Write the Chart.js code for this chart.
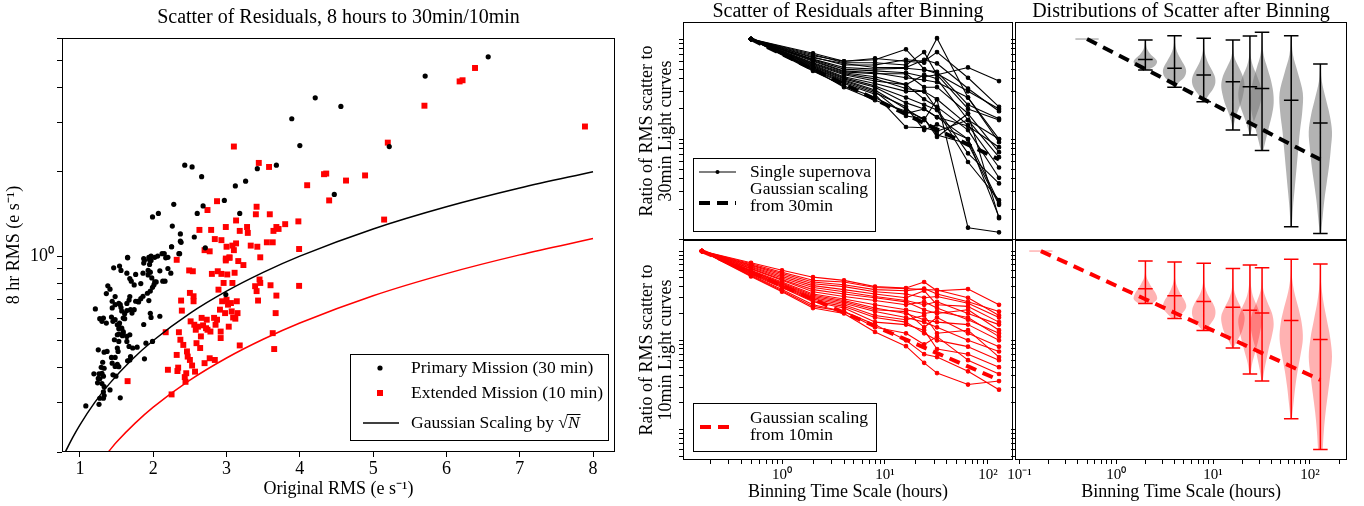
<!DOCTYPE html>
<html><head><meta charset="utf-8">
<script src="https://cdn.jsdelivr.net/npm/chart.js@4.4.1/dist/chart.umd.min.js"></script>
<style>
html,body{margin:0;padding:0;background:#fff;}
body{width:1364px;height:506px;position:relative;overflow:hidden;}
canvas{position:absolute;}
</style></head><body>
<canvas id="cA" width="677" height="506" style="left:0;top:0"></canvas>
<canvas id="cB" width="456" height="240" style="left:620px;top:0"></canvas>
<canvas id="cC" width="352" height="240" style="left:1005px;top:0"></canvas>
<canvas id="cD" width="456" height="266" style="left:620px;top:240px"></canvas>
<canvas id="cE" width="352" height="266" style="left:1005px;top:240px"></canvas>
<script>
// ---------------- DATA ----------------
// Left panel: (original RMS, 8 hr RMS)
const primaryPts = [[6.57,5.14],[5.71,4.39],[4.21,3.67],[4.56,3.42],[3.89,3.09],[4.00,2.48],[5.22,2.46],[2.43,2.11],[2.53,2.08],[3.68,2.11],[3.42,2.05],[2.66,1.92],[3.26,1.85],[3.12,1.78],[4.47,1.66],[2.97,1.58],[2.28,1.53],[2.68,1.51],[2.07,1.42],[1.99,1.38],[2.60,1.42],[3.18,1.42],[2.26,1.28],[2.37,1.20],[2.56,1.17],[2.37,1.13],[2.25,1.08],[2.71,1.07],[2.36,1.02],[1.65,0.99],[1.87,0.98],[1.94,0.99],[1.97,1.00],[1.95,0.97],[2.02,0.99],[2.12,1.02],[2.20,0.99],[2.38,1.12],
[1.08,0.292],[1.19,0.38],[1.21,0.648],[1.24,0.353],[1.25,0.366],[1.25,0.463],[1.26,0.38],[1.26,0.296],[1.27,0.598],[1.27,0.365],[1.27,0.311],[1.29,0.401],[1.30,0.351],[1.30,0.585],[1.30,0.382],[1.31,0.418],[1.32,0.373],[1.32,0.328],[1.32,0.311],[1.32,0.601],[1.33,0.454],[1.33,0.342],[1.33,0.318],[1.33,0.398],[1.36,0.577],[1.36,0.735],[1.37,0.457],[1.38,0.783],[1.41,0.762],[1.41,0.333],[1.43,0.606],[1.43,0.435],[1.44,0.653],[1.44,0.69],[1.44,0.415],[1.45,0.585],[1.45,0.377],[1.46,0.908],[1.47,0.503],[1.48,0.717],[1.48,0.671],[1.48,0.593],[1.48,0.435],[1.48,0.404],[1.49,0.373],[1.51,0.569],[1.51,0.524],[1.51,0.47],[1.51,0.411],[1.52,0.457],[1.53,0.551],[1.53,0.678],[1.53,0.569],[1.53,0.527],[1.53,0.496],[1.53,0.403],[1.54,0.921],[1.54,0.577],[1.55,0.671],[1.55,0.312],[1.56,0.889],[1.56,0.655],[1.57,0.637],[1.57,0.553],[1.58,0.52],[1.59,0.601],[1.59,0.538],[1.59,0.531],[1.61,0.623],[1.61,0.598],[1.64,0.869],[1.64,0.639],[1.64,0.678],[1.64,0.517],[1.64,0.496],[1.65,0.986],[1.65,0.423],[1.67,0.476],[1.67,0.697],[1.68,0.717],[1.68,0.426],[1.68,0.832],[1.68,0.524],[1.69,0.644],[1.69,0.438],[1.70,0.814],[1.71,0.626],[1.72,0.47],[1.74,0.644],[1.74,0.789],[1.76,0.69],[1.76,0.86],[1.78,0.473],[1.79,0.69],[1.80,0.686],[1.83,0.798],[1.83,0.705],[1.86,0.869],[1.86,0.719],[1.87,0.944],[1.87,0.57],[1.88,0.43],[1.88,0.967],[1.90,0.489],[1.92,0.737],[1.93,0.889],[1.93,0.857],[1.94,0.694],[1.95,0.934],[1.96,0.625],[1.96,0.876],[1.96,0.75],[1.97,0.604],[1.97,0.965],[1.98,0.836],[1.99,0.774],[1.99,0.496],[2.01,0.791],[2.02,0.809],[2.04,0.809],[2.06,1.0],[2.09,0.61],[2.09,0.886],[2.13,0.814],[2.15,1.02],[2.16,0.814],[2.17,0.986],[2.20,0.903],[2.24,0.869],[2.25,1.08],[2.35,1.02],[2.99,0.729]];
const extendedPts = [[7.89,2.90],[6.39,4.69],[6.22,4.24],[6.18,4.20],[5.70,3.44],[5.20,2.54],[3.10,2.46],[3.44,2.15],[3.58,2.08],[4.36,1.97],[4.33,1.96],[4.89,1.94],[4.63,1.86],[4.10,1.79],[2.87,1.57],[4.40,1.58],[3.41,1.50],[2.74,1.46],[3.40,1.41],[3.59,1.41],[3.13,1.34],[3.98,1.33],[5.15,1.35],[2.99,1.27],[3.28,1.27],[2.63,1.24],[2.79,1.24],[3.18,1.23],[3.80,1.30],[3.68,1.27],[3.71,1.25],[3.64,1.23],[3.29,1.21],[2.84,1.15],[2.93,1.14],[3.55,1.12],[3.63,1.12],[3.13,1.11],[3.08,1.09],[3.00,1.08],[3.10,1.05],[3.33,1.09],[3.42,1.08],[3.99,1.06],[2.70,1.05],[2.77,1.04],[3.04,0.99],[2.99,0.98],[3.46,0.99],[2.32,0.97],[3.16,0.96],
[1.65,0.358],[2.25,0.321],[2.17,0.535],[2.20,0.393],[2.32,0.444],[2.33,0.389],[2.34,0.40],[2.35,0.535],[2.37,0.503],[2.38,0.694],[2.39,0.639],[2.41,0.482],[2.43,0.37],[2.44,0.356],[2.45,0.382],[2.46,0.457],[2.47,0.438],[2.49,0.889],[2.50,0.426],[2.50,0.739],[2.51,0.585],[2.53,0.407],[2.54,0.883],[2.55,0.719],[2.55,0.69],[2.56,0.569],[2.57,0.387],[2.58,0.546],[2.59,0.489],[2.61,0.56],[2.64,0.47],[2.65,0.517],[2.66,0.602],[2.68,0.566],[2.70,0.415],[2.72,0.553],[2.73,0.593],[2.74,0.546],[2.77,0.432],[2.78,0.538],[2.80,0.864],[2.83,0.602],[2.84,0.426],[2.85,0.569],[2.87,0.593],[2.88,0.883],[2.89,0.759],[2.91,0.644],[2.92,0.538],[2.92,0.51],[2.93,0.864],[2.94,0.69],[2.96,0.802],[2.98,0.626],[2.99,0.965],[3.00,0.699],[3.01,0.86],[3.02,0.671],[3.03,0.56],[3.04,0.986],[3.06,0.68],[3.07,0.635],[3.08,0.802],[3.09,0.604],[3.11,0.872],[3.12,0.598],[3.14,0.69],[3.15,0.626],[3.18,0.48],[3.23,0.929],[3.39,0.781],[3.41,0.75],[3.43,0.694],[3.45,0.825],[3.46,0.802],[3.60,0.787],[3.63,0.531],[3.65,0.466],[3.67,0.626],[3.68,0.723],[3.99,0.783]];
// Gaussian sqrt(N) curves
const gauss30X = [0.8,0.9,1.0,1.2,1.4,1.7,2.0,2.5,3.0,3.5,4.0,5.0,6.0,7.0,8.0];
const gauss30Y = [0.2,0.225,0.25,0.3,0.35,0.425,0.5,0.625,0.75,0.875,1.0,1.25,1.5,1.75,2.0];
const gauss10X = [1.386,1.5,1.75,2.0,2.5,3.0,3.5,4.0,5.0,6.0,7.0,8.0];
const gauss10Y = [0.2,0.217,0.253,0.289,0.361,0.433,0.505,0.577,0.722,0.866,1.01,1.155];
// Tick values
const leftXTicks = [1,2,3,4,5,6,7,8];
const leftYTicks = [0.2,0.3,0.4,0.5,0.6,0.7,0.8,0.9,1,2,3,4,5,6];
const binXTicksL = [0.2,0.3,0.4,0.5,0.6,0.7,0.8,0.9,1,2,3,4,5,6,7,8,9,10,20,30,40,50,60,70,80,90,100];
const binXTicksR = [0.1,0.2,0.3,0.4,0.5,0.6,0.7,0.8,0.9,1,2,3,4,5,6,7,8,9,10,20,30,40,50,60,70,80,90,100,200];
const ratioTicksTop = [0.01,0.02,0.03,0.04,0.05,0.06,0.07,0.08,0.09,0.1,0.2,0.3,0.4,0.5,0.6,0.7,0.8,0.9,1];
const ratioTicksBot = [0.005,0.006,0.007,0.008,0.009,0.01,0.02,0.03,0.04,0.05,0.06,0.07,0.08,0.09,0.1,0.2,0.3,0.4,0.5,0.6,0.7,0.8,0.9,1];
const majorLabels = {'0.1':'10\u207B\u00B9','1':'10\u2070','10':'10\u00B9','100':'10\u00B2'};
// Binning time scales (hours)
const T30 = [0.5,2,4,8,16,24,32,64,128];
const T10 = [0.1667,0.5,1,2,4,8,16,24,32,64,128];
// Single supernova ratio curves
const sn30 = [
[1,0.72,0.60,0.62,0.79,0.50,0.45,0.30,0.20],
[1,0.70,0.58,0.58,0.55,0.74,0.44,0.52,0.38],
[1,0.68,0.60,0.64,0.60,0.58,1.02,0.26,0.10],
[1,0.66,0.55,0.55,0.62,0.60,0.74,0.41,0.21],
[1,0.65,0.57,0.52,0.52,0.62,0.57,0.32,0.19],
[1,0.63,0.52,0.50,0.51,0.49,0.47,0.22,0.16],
[1,0.62,0.50,0.48,0.46,0.42,0.44,0.20,0.155],
[1,0.61,0.48,0.46,0.41,0.39,0.37,0.26,0.093],
[1,0.60,0.47,0.45,0.45,0.33,0.33,0.18,0.074],
[1,0.58,0.46,0.42,0.35,0.44,0.40,0.155,0.066],
[1,0.57,0.45,0.40,0.32,0.30,0.25,0.138,0.052],
[1,0.56,0.44,0.38,0.35,0.25,0.21,0.123,0.041],
[1,0.55,0.42,0.36,0.30,0.30,0.20,0.072,0.036],
[1,0.54,0.41,0.34,0.26,0.22,0.195,0.059,0.0245],
[1,0.53,0.40,0.33,0.23,0.20,0.166,0.10,0.023],
[1,0.52,0.39,0.31,0.20,0.155,0.25,0.013,0.0117],
[1,0.51,0.38,0.30,0.17,0.16,0.105,0.18,0.0162],
[1,0.50,0.37,0.29,0.21,0.123,0.14,0.10,0.0166],
[1,0.49,0.36,0.28,0.132,0.13,0.12,0.155,0.10],
[1,0.48,0.34,0.26,0.18,0.20,0.165,0.135,0.083],
[1,0.50,0.33,0.245,0.19,0.16,0.11,0.09,0.022]];
const sn10 = [
[1,0.74,0.61,0.51,0.47,0.40,0.385,0.45,0.36,0.375,0.25],
[1,0.72,0.58,0.47,0.45,0.39,0.38,0.37,0.366,0.30,0.19],
[1,0.70,0.56,0.45,0.42,0.37,0.36,0.38,0.33,0.27,0.21],
[1,0.69,0.54,0.43,0.40,0.35,0.33,0.30,0.31,0.26,0.18],
[1,0.67,0.52,0.41,0.37,0.33,0.30,0.36,0.25,0.24,0.16],
[1,0.66,0.50,0.39,0.35,0.31,0.28,0.25,0.27,0.20,0.15],
[1,0.64,0.48,0.37,0.33,0.30,0.27,0.22,0.20,0.22,0.13],
[1,0.63,0.47,0.35,0.31,0.28,0.25,0.27,0.23,0.17,0.12],
[1,0.61,0.45,0.33,0.29,0.25,0.22,0.20,0.21,0.18,0.11],
[1,0.60,0.44,0.32,0.28,0.23,0.20,0.17,0.16,0.15,0.10],
[1,0.59,0.43,0.31,0.27,0.22,0.21,0.14,0.18,0.12,0.085],
[1,0.58,0.42,0.30,0.26,0.21,0.18,0.16,0.14,0.10,0.075],
[1,0.57,0.41,0.29,0.25,0.19,0.17,0.19,0.12,0.13,0.065],
[1,0.56,0.40,0.28,0.24,0.18,0.16,0.12,0.10,0.085,0.06],
[1,0.55,0.39,0.27,0.23,0.16,0.15,0.13,0.08,0.07,0.05],
[1,0.54,0.37,0.25,0.21,0.14,0.12,0.09,0.11,0.06,0.042],
[1,0.52,0.35,0.23,0.20,0.124,0.086,0.056,0.043,0.032,0.035],
[1,0.53,0.36,0.24,0.21,0.15,0.10,0.07,0.065,0.045,0.028]];
// Gaussian scaling (dashed)
const gaussT30 = [0.5,2,4,8,16,32,64,128];
const gaussR30 = [1,0.5,0.354,0.25,0.177,0.125,0.088,0.0625];
const gaussT10 = [0.1667,2,4,8,16,32,64,128];
const gaussR10 = [1,0.289,0.204,0.144,0.102,0.072,0.051,0.036];
// Violin distributions
const violinPos = [2,4,8,16,24,32,64,128];
const v30Min = [0.49,0.33,0.236,0.123,0.11,0.077,0.0133,0.0114];
const v30Med = [0.626,0.51,0.437,0.374,0.333,0.321,0.245,0.145];
const v30Max = [0.98,1.08,1.02,0.98,1.07,1.17,1.08,0.562];
const v30Dens = [
[0.2,0.7,0.95,1.0,0.8,0.5,0.3,0.15,0.08,0.05,0.02],
[0.05,0.4,0.85,1.0,0.9,0.65,0.4,0.2,0.08,0.03,0.01],
[0.05,0.4,0.8,1.0,0.95,0.7,0.4,0.2,0.07,0.03,0.01],
[0.02,0.15,0.4,0.7,0.9,1.0,0.85,0.5,0.15,0.04,0.01],
[0.03,0.25,0.55,0.85,1.0,0.9,0.6,0.25,0.06,0.02,0.01],
[0.1,0.35,0.6,0.85,1.0,0.95,0.75,0.45,0.15,0.04,0.01],
[0.05,0.15,0.3,0.45,0.6,0.75,0.95,1.0,0.6,0.15,0.02],
[0.05,0.2,0.35,0.55,0.75,0.9,1.0,0.8,0.45,0.12,0.02]];
const v10Min = [0.258,0.176,0.129,0.082,0.042,0.035,0.0132,0.006];
const v10Med = [0.378,0.316,0.273,0.235,0.217,0.203,0.167,0.102];
const v10Max = [0.774,0.755,0.73,0.636,0.70,0.652,0.81,0.717];
const v10Dens = [
[0.6,1.0,0.95,0.75,0.5,0.3,0.12,0.05,0.03,0.02,0.01],
[0.2,0.7,1.0,0.9,0.6,0.35,0.15,0.05,0.02,0.01,0.01],
[0.1,0.6,0.95,1.0,0.8,0.45,0.2,0.07,0.03,0.01,0.01],
[0.05,0.4,0.75,0.95,1.0,0.75,0.4,0.15,0.05,0.02,0.01],
[0.05,0.2,0.45,0.7,0.9,1.0,0.7,0.3,0.1,0.03,0.01],
[0.05,0.2,0.4,0.6,0.85,1.0,0.85,0.45,0.12,0.03,0.01],
[0.05,0.2,0.35,0.55,0.8,1.0,0.9,0.6,0.25,0.05,0.01],
[0.2,0.3,0.45,0.65,0.85,1.0,0.85,0.55,0.25,0.06,0.01]];
const firstBin30 = 0.5, firstBin10 = 0.1667;

// ---------------- STYLE ----------------
const FONT = "'Liberation Serif','Times New Roman',serif";
Chart.defaults.font.family = FONT;
Chart.defaults.font.size = 18;
Chart.defaults.color = '#000';
Chart.defaults.animation = false;
Chart.defaults.events = [];
Chart.defaults.plugins.legend.display = false;
Chart.defaults.plugins.tooltip.enabled = false;
const VIOLIN_HALF = 0.12;   // half width in decades
const CAP_HALF = 0.075;

const pts = (xs, ys) => xs.map((x,i) => ({x, y: ys[i]}));
const setTicks = list => s => { s.ticks = list.map(v => ({value: v})); };
const majorCb = v => majorLabels[String(v)] || '';

const framePlugin = {id:'frame', afterDatasetsDraw(chart){
  const {ctx, chartArea:a} = chart; ctx.save();
  ctx.strokeStyle = '#000'; ctx.lineWidth = 1;
  ctx.strokeRect(Math.round(a.left)+0.5, Math.round(a.top)+0.5, Math.round(a.right-a.left)-1, Math.round(a.bottom-a.top)-1);
  ctx.restore();
}};

function legendPlugin(spec){
  return {id:'boxLegend', afterDraw(chart){
    const ctx = chart.ctx; ctx.save();
    const [x0,y0,x1,y1] = spec.box;
    ctx.fillStyle = 'rgba(255,255,255,0.9)'; ctx.fillRect(x0,y0,x1-x0,y1-y0);
    ctx.strokeStyle = '#000'; ctx.lineWidth = 1; ctx.strokeRect(x0+0.5,y0+0.5,x1-x0-1,y1-y0-1);
    for (const it of spec.items){
      ctx.setLineDash([]);
      if (it.kind === 'dot'){ ctx.fillStyle = it.color; ctx.beginPath(); ctx.arc(it.x,it.y,it.r,0,Math.PI*2); ctx.fill(); }
      if (it.kind === 'square'){ ctx.fillStyle = it.color; ctx.fillRect(it.x-it.s/2,it.y-it.s/2,it.s,it.s); }
      if (it.kind === 'line'){
        ctx.strokeStyle = it.color; ctx.lineWidth = it.width; ctx.setLineDash(it.dash || []);
        ctx.beginPath(); ctx.moveTo(it.x0,it.y); ctx.lineTo(it.x1,it.y); ctx.stroke(); ctx.setLineDash([]);
        if (it.dot){ ctx.fillStyle = it.color; ctx.beginPath(); ctx.arc((it.x0+it.x1)/2,it.y,2,0,Math.PI*2); ctx.fill(); }
      }
      ctx.fillStyle = '#000'; ctx.textBaseline = 'middle'; ctx.textAlign = 'left';
      ctx.font = spec.size + 'px ' + FONT;
      it.lines.forEach((t,k) => {
        const ty = it.ty[k];
        if (it.sqrt){
          ctx.fillText(t, it.tx, ty);
          let w = ctx.measureText(t).width;
          ctx.fillText('\u221A', it.tx + w, ty);
          const ws = ctx.measureText('\u221A').width;
          ctx.font = 'italic ' + spec.size + 'px ' + FONT;
          ctx.fillText('N', it.tx + w + ws, ty);
          const wn = ctx.measureText('N').width;
          ctx.strokeStyle = '#000'; ctx.lineWidth = 1;
          ctx.beginPath(); ctx.moveTo(it.tx + w + ws - 1, ty - 8.5); ctx.lineTo(it.tx + w + ws + wn + 1, ty - 8.5); ctx.stroke();
          ctx.font = spec.size + 'px ' + FONT;
        } else ctx.fillText(t, it.tx, ty);
      });
    }
    ctx.restore();
  }};
}

function tickGrid(len){ return {display:true, drawOnChartArea:false, drawTicks:true, tickLength:len, color:'#000', tickWidth:1}; }
function dummyRight(w){ return {type:'linear', position:'right', display:true, grid:{display:false}, ticks:{display:false}, border:{display:false}, afterFit: s => { s.width = w; }}; }

function violinData(p, mn, mx, dens){
  const n = dens.length, l0 = Math.log10(mn), l1 = Math.log10(mx);
  const left = [], right = [];
  for (let j = 0; j < n; j++){
    const y = Math.pow(10, l0 + (l1-l0)*j/(n-1));
    const w = dens[j]*VIOLIN_HALF;
    left.push({x: p*Math.pow(10,-w), y});
    right.push({x: p*Math.pow(10,w), y});
  }
  return left.concat(right.reverse());
}
function errbarData(mn, md, mx){
  const d = [];
  violinPos.forEach((p,i) => {
    const a = p*Math.pow(10,-CAP_HALF), b = p*Math.pow(10,CAP_HALF);
    d.push({x:p,y:mn[i]},{x:p,y:mx[i]},{x:p,y:null},
           {x:a,y:mx[i]},{x:b,y:mx[i]},{x:p,y:null},
           {x:a,y:mn[i]},{x:b,y:mn[i]},{x:p,y:null},
           {x:a,y:md[i]},{x:b,y:md[i]},{x:p,y:null});
  });
  return d;
}

// ---------------- CHART A: left scatter ----------------
new Chart(document.getElementById('cA'), {
  type:'scatter',
  data:{datasets:[
    {data: pts(gauss30X, gauss30Y), showLine:true, borderColor:'#000', borderWidth:1.5, pointRadius:0, cubicInterpolationMode:'monotone'},
    {data: pts(gauss10X, gauss10Y), showLine:true, borderColor:'#ff0000', borderWidth:1.5, pointRadius:0, cubicInterpolationMode:'monotone'},
    {data: primaryPts.map(p => ({x:p[0], y:p[1]})), pointStyle:'circle', pointRadius:2.6, backgroundColor:'#000', borderWidth:0},
    {data: extendedPts.map(p => ({x:p[0], y:p[1]})), pointStyle:'rect', pointRadius:4.2, backgroundColor:'#ff0000', borderWidth:0}
  ]},
  options:{responsive:false, devicePixelRatio:1, layout:{padding:0, autoPadding:false},
    plugins:{title:{display:true, text:'Scatter of Residuals, 8 hours to 30min/10min', font:{size:20, weight:'normal'}, padding:{top:6,bottom:8}, color:'#000'}},
    scales:{
      x:{type:'linear', min:0.755, max:8.3, afterBuildTicks: setTicks(leftXTicks),
         ticks:{autoSkip:false, maxRotation:0, padding:1, font:{size:18}},
         grid:tickGrid(5), border:{display:false},
         title:{display:true, text:'Original RMS (e s\u207B\u00B9)', font:{size:18}, padding:{top:0,bottom:6}},
         afterFit: s => { s.height = 54; }},
      y:{type:'logarithmic', min:0.2, max:6, afterBuildTicks: setTicks(leftYTicks),
         ticks:{autoSkip:false, padding:3, font:{size:18}, callback: majorCb},
         grid:tickGrid(5), border:{display:false},
         title:{display:true, text:'8 hr RMS (e s\u207B\u00B9)', font:{size:18}, padding:{top:3,bottom:0}},
         afterFit: s => { s.width = 62; }},
      yR: dummyRight(62)
    }},
  plugins:[framePlugin, legendPlugin({box:[350,354,609,441], size:17.5, items:[
    {kind:'dot', x:380, y:368, r:2.6, color:'#000', tx:411, ty:[368], lines:['Primary Mission (30 min)']},
    {kind:'square', x:380, y:393, s:6, color:'#ff0000', tx:411, ty:[393], lines:['Extended Mission (10 min)']},
    {kind:'line', x0:363, x1:399, y:423, width:1.5, color:'#000', tx:411, ty:[423], lines:['Gaussian Scaling by '], sqrt:true}
  ]})]
});

// ---------------- spaghetti panels ----------------
function spaghettiChart(id, title, T, lines, gT, gR, color, yMin, yMax, yTicks, ytitle, showX, legendSpec){
  const ds = [];
  ds.push({data: pts(gT, gR), showLine:true, borderColor:color, borderWidth:4, borderDash:[11,7], pointRadius:0});
  lines.forEach(l => ds.push({data: pts(T, l), showLine:true, borderColor:color, borderWidth:1.1, pointRadius:1.8, backgroundColor:color, borderJoinStyle:'round'}));
  const xScale = {type:'logarithmic', min:0.1093, max:175};
  if (showX){
    Object.assign(xScale, {afterBuildTicks: setTicks(binXTicksL), ticks:{autoSkip:false, maxRotation:0, padding:2, font:{size:15}, callback: majorCb},
      grid:tickGrid(4), border:{display:false},
      title:{display:true, text:'Binning Time Scale (hours)', font:{size:18}, padding:{top:0,bottom:3}},
      afterFit: s => { s.height = 46; }});
  } else xScale.display = false;
  const opts = {responsive:false, devicePixelRatio:1, layout:{padding:0, autoPadding:false},
    plugins:{title: title ? {display:true, text:title, font:{size:20, weight:'normal', lineHeight:1}, padding:{top:2,bottom:0}, color:'#000'} : {display:false}},
    scales:{x:xScale,
      y:{type:'logarithmic', min:yMin, max:yMax, afterBuildTicks: setTicks(yTicks), ticks:{display:false},
         grid:tickGrid(4), border:{display:false},
         title:{display:true, text:ytitle, font:{size:18, lineHeight:1.1}, padding:{top:17,bottom:0}},
         afterFit: s => { s.width = 63; }},
      yR: dummyRight(63)}};
  new Chart(document.getElementById(id), {type:'scatter', data:{datasets:ds}, options:opts, plugins:[framePlugin, legendPlugin(legendSpec)]});
}

spaghettiChart('cB', 'Scatter of Residuals after Binning', T30, sn30, gaussT30, gaussR30, '#000', 0.0098, 1.48, ratioTicksTop,
  ['Ratio of RMS scatter to','30min Light curves'], false,
  {box:[73,158,256,232], size:17.5, items:[
    {kind:'line', x0:79, x1:116, y:172, width:1.2, color:'#000', dot:true, tx:130, ty:[172], lines:['Single supernova']},
    {kind:'line', x0:79, x1:116, y:203, width:4, dash:[11,7], color:'#000', tx:130, ty:[189,206], lines:['Gaussian scaling','from 30min']}
  ]});
spaghettiChart('cD', null, T10, sn10, gaussT10, gaussR10, '#ff0000', 0.00457, 1.33, ratioTicksBot,
  ['Ratio of RMS scatter to','10min Light curves'], true,
  {box:[73,163,257,212], size:17.5, items:[
    {kind:'line', x0:80, x1:115, y:187, width:4, dash:[11,7], color:'#ff0000', tx:130, ty:[178,195], lines:['Gaussian scaling','from 10min']}
  ]});

// ---------------- violin panels ----------------
function violinChart(id, title, mn, md, mx, dens, gT, gR, color, fill, firstBin, yMin, yMax, yTicks, showX){
  const ds = [];
  ds.push({data: pts(gT, gR), showLine:true, borderColor:color, borderWidth:4, borderDash:[11,7], pointRadius:0});
  ds.push({data: errbarData(mn, md, mx), showLine:true, borderColor:color, borderWidth:1.5, pointRadius:0, spanGaps:false});
  ds.push({data: [{x:firstBin*Math.pow(10,-VIOLIN_HALF), y:1},{x:firstBin*Math.pow(10,VIOLIN_HALF), y:1}], showLine:true, borderColor:fill, borderWidth:1.5, pointRadius:0});
  violinPos.forEach((p,i) => ds.push({data: violinData(p, mn[i], mx[i], dens[i]), showLine:true, fill:'shape', backgroundColor:fill, borderColor:'rgba(0,0,0,0)', borderWidth:0, pointRadius:0, tension:0.35}));
  const xScale = {type:'logarithmic', min:0.0903, max:241};
  if (showX){
    Object.assign(xScale, {afterBuildTicks: setTicks(binXTicksR), ticks:{autoSkip:false, maxRotation:0, padding:2, font:{size:15}, callback: majorCb},
      grid:tickGrid(4), border:{display:false},
      title:{display:true, text:'Binning Time Scale (hours)', font:{size:18}, padding:{top:0,bottom:3}},
      afterFit: s => { s.height = 46; }});
  } else xScale.display = false;
  const opts = {responsive:false, devicePixelRatio:1, layout:{padding:0, autoPadding:false},
    plugins:{title: title ? {display:true, text:title, font:{size:20, weight:'normal', lineHeight:1}, padding:{top:2,bottom:0}, color:'#000'} : {display:false}},
    scales:{x:xScale,
      y:{type:'logarithmic', min:yMin, max:yMax, afterBuildTicks: setTicks(yTicks), ticks:{display:false},
         grid:tickGrid(4), border:{display:false}, afterFit: s => { s.width = 10; }},
      yR: dummyRight(10)}};
  new Chart(document.getElementById(id), {type:'scatter', data:{datasets:ds}, options:opts, plugins:[framePlugin]});
}
violinChart('cC', 'Distributions of Scatter after Binning', v30Min, v30Med, v30Max, v30Dens, gaussT30, gaussR30, '#000', 'rgba(128,128,128,0.6)', firstBin30, 0.0098, 1.48, ratioTicksTop, false);
violinChart('cE', null, v10Min, v10Med, v10Max, v10Dens, gaussT10, gaussR10, '#ff0000', 'rgba(255,0,0,0.3)', firstBin10, 0.00457, 1.33, ratioTicksBot, true);
</script></body></html>
